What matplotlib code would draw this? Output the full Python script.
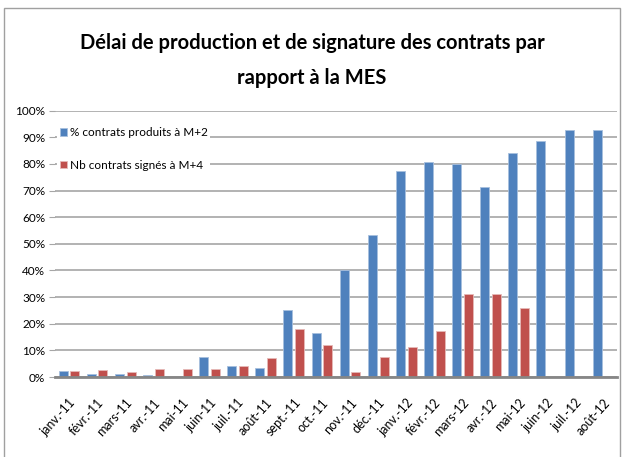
import numpy as np
import matplotlib
matplotlib.use('Agg')
import matplotlib.pyplot as plt
from matplotlib.patches import Rectangle
from matplotlib.ticker import PercentFormatter

plt.rcParams['font.family'] = ['Lato', 'DejaVu Sans']

months = ['janv.-11', 'févr.-11', 'mars-11', 'avr.-11', 'mai-11', 'juin-11', 'juil.-11',
          'août-11', 'sept.-11', 'oct.-11', 'nov.-11', 'déc.-11', 'janv.-12', 'févr.-12',
          'mars-12', 'avr.-12', 'mai-12', 'juin-12', 'juil.-12', 'août-12']
produits = [2.1, 1.1, 1.1, 0.6, 0.0, 7.4, 4.3, 3.4, 25.3, 16.5, 40.3, 53.2, 77.2, 80.8,
            80.0, 71.2, 84.0, 88.6, 92.7, 92.7]
signes = [2.1, 2.5, 1.7, 3.0, 3.0, 3.0, 4.3, 7.0, 18.0, 12.0, 1.9, 7.4, 11.2, 17.2,
          31.0, 31.3, 25.8, 0.0, 0.0, 0.0]

BLUE = '#4F81BD'
RED = '#C0504D'

fig = plt.figure(figsize=(6.24, 4.57), dpi=100)
ax = fig.add_axes([0.088, 0.175, 0.901, 0.583])

x = np.arange(len(months))
w = 0.32
ax.bar(x - 0.21, produits, w, color=BLUE, edgecolor='#A7BFDE', linewidth=0.6,
       label='% contrats produits à M+2', zorder=3)
ax.bar(x + 0.21, signes, w, color=RED, edgecolor='#E6B9B8', linewidth=0.6,
       label='Nb contrats signés à M+4', zorder=3)

ax.set_xlim(-0.5, len(months) - 0.5)
ax.set_ylim(0, 100)
ax.set_yticks(np.arange(0, 101, 10))
ax.yaxis.set_major_formatter(PercentFormatter(decimals=0))
ax.grid(axis='y', color='#A6A6A6', linewidth=1.2, zorder=0)
ax.set_axisbelow(True)
for s in ['top', 'right', 'left']:
    ax.spines[s].set_visible(False)
ax.spines['bottom'].set_color('#868686')
ax.spines['bottom'].set_linewidth(2)
ax.spines['bottom'].set_zorder(4)
ax.tick_params(axis='y', length=4, color='#A6A6A6', labelsize=8.5, pad=3)
ax.tick_params(axis='x', length=0, labelsize=9, pad=14)
ax.set_xticks(x)
ax.set_xticklabels(months, rotation=48, ha='right', rotation_mode='anchor')

leg = ax.legend(loc='upper left', bbox_to_anchor=(0.0, 0.955), frameon=True,
                fancybox=False, edgecolor='none', framealpha=1, fontsize=8.5,
                handlelength=0.6, handleheight=0.6, handletextpad=0.3,
                labelspacing=1.8, borderaxespad=0.2, borderpad=0.2)
leg.set_zorder(5)

fig.text(0.5, 0.905, 'Délai de production et de signature des contrats par',
         ha='center', va='center', fontsize=14.5, fontweight='bold')
fig.text(0.5, 0.83, 'rapport à la MES',
         ha='center', va='center', fontsize=14.5, fontweight='bold')

fig.patches.append(Rectangle((0.0065, -0.01), 0.987, 0.993, transform=fig.transFigure,
                             fill=False, edgecolor='#A0A0A0', linewidth=1))

fig.savefig('out.png', dpi=100)
